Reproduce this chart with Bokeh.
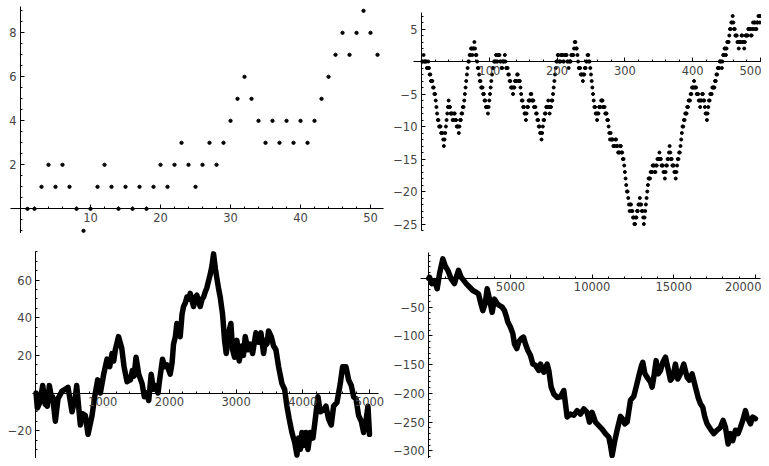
from bokeh.plotting import figure
from bokeh.layouts import column, row
from bokeh.models import Range1d, FixedTicker
from bokeh.embed import file_html
from bokeh.resources import INLINE

# ---------------- data ----------------
# panel 1: 51-step walk
walk50 = [0, 0, 1, 2, 1, 2, 1, 0, -1, 0,
          1, 2, 1, 0, 1, 0, 1, 0, 1, 2,
          1, 2, 3, 2, 1, 2, 3, 2, 3, 4,
          5, 6, 5, 4, 3, 4, 3, 4, 3, 4,
          3, 4, 5, 6, 7, 8, 7, 8, 9, 8, 7]

# panel 2: 500-step walk, as (level, run length) pairs read left to right
walk500_runs = [
    (0, 2), (1, 1), (0, 4), (-1, 2), (0, 1),
    (-1, 1), (-2, 2), (-3, 3), (-4, 2), (-5, 2), (-6, 1), (-7, 1), (-8, 1), (-9, 2), (-10, 3), (-11, 3), (-12, 1), (-13, 1),
    (-12, 1), (-11, 1), (-10, 1), (-9, 1), (-8, 1), (-7, 1), (-6, 1),
    (-7, 2), (-8, 3), (-9, 2), (-8, 2), (-9, 2), (-10, 3), (-11, 1), (-10, 1), (-9, 2), (-8, 2), (-7, 2), (-6, 1),
    (-5, 1), (-4, 1), (-3, 1), (-2, 1), (-1, 1), (0, 2), (1, 2), (2, 2), (1, 1), (2, 2), (3, 1),
    (2, 1), (1, 2), (0, 1), (-1, 2), (-2, 1), (-3, 2), (-4, 3), (-5, 2), (-6, 2), (-7, 3), (-8, 1), (-7, 1), (-6, 1),
    (-5, 1), (-4, 1), (-3, 1), (-2, 1), (-1, 2), (0, 3), (1, 1), (0, 2),
    (1, 3), (0, 2), (-1, 2), (0, 3), (1, 1), (0, 1), (-1, 3), (-2, 2),
    (-3, 2), (-4, 3), (-5, 1), (-4, 2), (-3, 3), (-2, 2), (-3, 3), (-4, 1), (-5, 1), (-6, 2),
    (-7, 2), (-8, 2), (-9, 1), (-8, 1), (-7, 2), (-6, 3), (-5, 2), (-6, 3), (-7, 3), (-8, 2), (-9, 2),
    (-10, 2), (-11, 2), (-12, 1), (-11, 1), (-10, 1), (-9, 2), (-8, 2), (-7, 3), (-6, 1), (-7, 1),
    (-8, 1), (-7, 2), (-6, 2), (-5, 1), (-4, 1), (-3, 1), (-2, 1), (-1, 1), (0, 2), (1, 2),
    (0, 3), (1, 3), (0, 2), (1, 4), (0, 2), (-1, 1), (0, 3), (1, 4), (2, 1), (3, 2), (2, 2), (1, 1), (0, 1),
    (-1, 3), (-2, 3), (-3, 1), (-2, 2), (-1, 2), (0, 2), (1, 2), (0, 2), (-1, 1),
    (-2, 1), (-3, 1), (-4, 1), (-5, 1), (-6, 1), (-7, 2), (-8, 2), (-9, 1), (-8, 2), (-7, 3), (-6, 3), (-7, 3), (-8, 3), (-9, 2), (-10, 1), (-11, 1), (-12, 1), (-11, 1),
    (-12, 3), (-13, 3), (-12, 2), (-13, 2), (-14, 3), (-13, 2), (-14, 2),
    (-15, 2), (-16, 1), (-17, 1), (-18, 1), (-19, 1), (-20, 2), (-21, 1), (-22, 1), (-23, 1),
    (-22, 2), (-23, 2), (-24, 2), (-25, 2), (-24, 2), (-23, 2), (-22, 2), (-21, 1), (-22, 2), (-23, 2), (-24, 1), (-25, 1), (-24, 1), (-23, 1), (-22, 1),
    (-21, 1), (-20, 1), (-19, 1), (-18, 3), (-17, 3), (-16, 3), (-17, 2), (-16, 2), (-15, 3), (-14, 1), (-15, 2), (-16, 3), (-17, 2), (-18, 1), (-17, 1), (-16, 2), (-15, 2), (-14, 1), (-13, 1),
    (-14, 1), (-15, 2), (-16, 3), (-17, 2), (-18, 1), (-17, 1), (-16, 1), (-15, 2), (-14, 2),
    (-13, 1), (-12, 1), (-11, 1), (-10, 2), (-9, 2), (-8, 3), (-7, 2), (-6, 3), (-5, 2), (-4, 3), (-3, 1), (-4, 3),
    (-5, 3), (-6, 2), (-7, 1), (-6, 2), (-5, 2), (-6, 2), (-7, 1), (-8, 2), (-9, 1), (-8, 1),
    (-7, 1), (-6, 2), (-5, 3), (-4, 4), (-3, 2), (-2, 2), (-1, 3), (0, 3), (-1, 1), (0, 1),
    (1, 2), (2, 2), (1, 1), (2, 1), (3, 3), (4, 1), (5, 2), (6, 2), (7, 1), (6, 1),
    (5, 2), (4, 3), (3, 2), (2, 1), (3, 3), (4, 2), (3, 2), (2, 1), (3, 1), (4, 4), (5, 4), (4, 2), (5, 1), (6, 1),
    (5, 1), (6, 2), (5, 2), (6, 2), (7, 2), (6, 1), (7, 1),
]

# panel 3: 5000-step walk
walk5000_x = [1, 20, 60, 100, 140, 170, 200, 240, 250, 290,
              330, 390, 440, 480, 540, 590, 610, 665, 700, 740,
              780, 840, 880, 925, 965, 1015, 1065, 1105, 1140, 1165,
              1190, 1237, 1285, 1320, 1365, 1415, 1445, 1470, 1500, 1540,
              1590, 1625, 1660, 1690, 1727, 1760, 1787, 1830, 1850, 1897,
              1930, 1962, 2012, 2040, 2062, 2090, 2112, 2140, 2162, 2190,
              2212, 2240, 2262, 2290, 2312, 2340, 2362, 2390, 2412, 2440,
              2462, 2490, 2512, 2540, 2562, 2590, 2612, 2640, 2662, 2690,
              2712, 2740, 2762, 2797, 2827, 2852, 2887, 2922, 2947, 2977,
              3012, 3047, 3087, 3110, 3137, 3177, 3212, 3247, 3297, 3337,
              3372, 3412, 3440, 3462, 3487, 3527, 3562, 3597, 3637, 3687,
              3727, 3762, 3797, 3837, 3877, 3912, 3937, 3962, 3987, 4012,
              4047, 4077, 4112, 4152, 4187, 4227, 4262, 4312, 4347, 4387,
              4427, 4462, 4512, 4562, 4597, 4647, 4687, 4727, 4762, 4797,
              4837, 4877, 4912, 4947, 4977, 5000]
walk5000_y = [0, -8, -5, 4, -6, -7, 4, -4, -2, -15,
              -3, 1, 2, 3, -10, -2, 4, -17, -11, -12,
              -22, -12, -2, 7, 0, 10, 18, 14, 21, 17,
              23, 30, 24, 14, 6, 7, 12, 9, 19, 10,
              5, -2, 0, -4, 10, 2, 4, 0, 6, 18,
              14, 15, 10, 16, 26, 30, 37, 32, 30, 42,
              46, 48, 51, 50, 53, 49, 46, 51, 52, 48,
              46, 50, 51, 54, 56, 60, 63, 68, 74, 66,
              61, 55, 51, 42, 28, 21, 32, 37, 23, 19,
              28, 17, 25, 20, 30, 23, 26, 21, 32, 27,
              32, 21, 28, 26, 33, 30, 25, 23, 14, 5,
              2, -7, -14, -21, -26, -33, -24, -30, -21, -28,
              -21, -30, -21, -24, -14, -2, -10, -9, -7, -14,
              -17, -7, -5, 5, 14, 14, 7, 4, -2, -3,
              -12, -15, -21, -15, -7, -22]

# panel 4: 20000-step walk
walk20000_x = [1, 43, 186, 349, 512, 655, 859, 1002, 1165, 1369,
               1573, 1716, 1818, 1981, 2124, 2288, 2492, 2696, 2900, 3043,
               3165, 3308, 3451, 3573, 3716, 3880, 4022, 4186, 4329, 4492,
               4635, 4737, 4839, 5002, 5145, 5247, 5390, 5512, 5655, 5798,
               5920, 6063, 6227, 6369, 6532, 6737, 6839, 7043, 7247, 7349,
               7492, 7655, 7859, 8063, 8267, 8471, 8676, 8880, 9084, 9288,
               9492, 9696, 9839, 10002, 10206, 10410, 10614, 10818, 11022, 11124,
               11226, 11390, 11533, 11737, 11880, 12002, 12145, 12349, 12553, 12696,
               12859, 13022, 13104, 13226, 13369, 13573, 13675, 13778, 13920, 14043,
               14186, 14329, 14492, 14635, 14798, 14941, 15104, 15247, 15410, 15614,
               15818, 15961, 16124, 16329, 16492, 16635, 16778, 16900, 17043, 17247,
               17451, 17655, 17859, 18022, 18165, 18329, 18471, 18614, 18778, 18941,
               19084, 19227, 19390, 19492, 19696, 19839, 20000]
walk20000_y = [0, 2, -9, -4, -18, 8, 34, 22, 14, -1,
               -9, 5, 14, 2, -3, -9, -15, -21, -24, -27,
               -41, -56, -44, -18, -36, -59, -36, -44, -47, -50,
               -56, -65, -76, -85, -96, -114, -122, -110, -105, -102,
               -114, -125, -134, -149, -151, -160, -149, -163, -149, -160,
               -189, -201, -207, -206, -195, -241, -236, -238, -230, -236,
               -227, -233, -250, -233, -250, -256, -262, -270, -276, -290,
               -308, -282, -264, -240, -245, -253, -250, -212, -205, -189,
               -170, -152, -146, -165, -172, -180, -189, -172, -143, -166,
               -160, -146, -137, -155, -177, -172, -149, -175, -166, -149,
               -172, -177, -166, -189, -207, -218, -224, -241, -253, -262,
               -270, -264, -259, -247, -259, -288, -270, -282, -264, -270,
               -259, -247, -230, -241, -253, -241, -244]

# tick labels
p1_xticks = [10, 20, 30, 40, 50]
p1_yticks = [2, 4, 6, 8]
p2_xticks = [100, 200, 300, 400, 500]
p2_yticks = [-25, -20, -15, -10, -5, 5]
p3_xticks = [1000, 2000, 3000, 4000, 5000]
p3_yticks = [-20, 20, 40, 60]
p4_xticks = [5000, 10000, 15000, 20000]
p4_yticks = [-300, -250, -200, -150, -100, -50]


def frange(a, b, step):
    out = []
    v = a
    while v <= b + 1e-9:
        out.append(round(v, 6))
        v += step
    return out


def panel(w, h, xr, yr, xb, yb, xt, xm, yt, ym):
    p = figure(width=w, height=h, x_range=Range1d(*xr), y_range=Range1d(*yr),
               output_backend="svg", toolbar_location=None, min_border=0)
    p.title.visible = False
    p.grid.visible = False
    p.outline_line_color = None
    p.background_fill_color = "white"
    p.border_fill_color = "white"
    for ax, b, t, m in ((p.xaxis[0], xb, xt, xm), (p.yaxis[0], yb, yt, ym)):
        ax.fixed_location = 0
        ax.bounds = b
        ax.ticker = FixedTicker(ticks=t, minor_ticks=m)
        ax.axis_line_color = "black"
        ax.axis_line_width = 1
        ax.major_tick_in = 4
        ax.major_tick_out = 0
        ax.minor_tick_in = 2
        ax.minor_tick_out = 0
        ax.major_tick_line_color = "black"
        ax.minor_tick_line_color = "black"
        ax.major_label_text_font = "DejaVu Sans"
        ax.major_label_text_font_size = "11.5px"
        ax.major_label_text_color = "#444444"
        ax.major_label_standoff = 4
    return p


# panel 1
p1 = panel(385, 233, (-2.857, 52.14), (-1.123, 9.468), (-1.43, 51.86), (-1.25, 9.2),
           p1_xticks, frange(0, 50, 2), p1_yticks, frange(-1, 9, 0.5))
p1.scatter(list(range(1, len(walk50) + 1)), walk50, size=3.3, color="black")

# panel 2
walk500 = [v for v, n in walk500_runs for _ in range(n)]
p2 = panel(376, 233, (-53.1, 501.5), (-26.46, 9.385), (-12, 503), (-26, 7.6),
           p2_xticks, frange(0, 500, 20), p2_yticks, frange(-26, 7, 1))
p2.scatter(list(range(1, len(walk500) + 1)), walk500, size=3.0, color="black")

# panel 3
p3 = panel(385, 225, (-532.2, 5239.9), (-34.84, 84.84), (-57, 5140), (-36, 75.4),
           p3_xticks, frange(0, 5000, 200), p3_yticks, frange(-35, 75, 5))
p3.line(walk5000_x, walk5000_y, line_width=5.5, color="black", line_join="round", line_cap="round")

# panel 4
p4 = panel(376, 225, (-2651.6, 20373), (-313.2, 78.1), (-510, 20300), (-317, 45),
           p4_xticks, frange(0, 20000, 1000), p4_yticks, frange(-310, 40, 10))
p4.line(walk20000_x, walk20000_y, line_width=5.5, color="black", line_join="round", line_cap="round")

layout = column(row(p1, p2), row(p3, p4))

open("out.html", "w").write(file_html(layout, INLINE))
